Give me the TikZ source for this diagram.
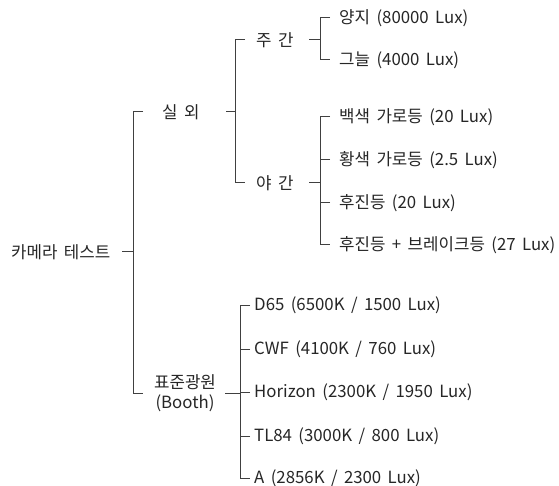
\documentclass[tikz,border=0pt]{standalone}
\usepackage{fontspec}
\setmainfont[WordSpace=1.7]{Noto Sans CJK KR}
\begin{document}
\begin{tikzpicture}[x=1pt,y=-1pt,
  txt/.style={inner sep=0pt, anchor=west, text=black!85, font=\fontsize{16.8}{19.5}\selectfont},
  ln/.style={draw=black!75, line width=1pt}]
\useasboundingbox (0,0) rectangle (559,486);
% texts
\node[txt] (root) at (11,252) {카메라 테스트};
\node[txt] (out) at (162,112) {실 외};
\node[txt] (day) at (256,40) {주 간};
\node[txt] (night) at (256,183) {야 간};
\node[txt, anchor=center, align=center] (booth) at (185,393) {표준광원\\(Booth)};
\node[txt] (d1) at (339,18) {양지 (80000 Lux)};
\node[txt] (d2) at (339,60) {그늘 (4000 Lux)};
\node[txt] (n1) at (339,117) {백색 가로등 (20 Lux)};
\node[txt] (n2) at (339,160) {황색 가로등 (2.5 Lux)};
\node[txt] (n3) at (339,203) {후진등 (20 Lux)};
\node[txt] (n4) at (339,245) {후진등 + 브레이크등 (27 Lux)};
\node[txt] (b1) at (254,305) {D65 (6500K / 1500 Lux)};
\node[txt] (b2) at (254,349) {CWF (4100K / 760 Lux)};
\node[txt] (b3) at (254,392) {Horizon (2300K / 1950 Lux)};
\node[txt] (b4) at (254,436) {TL84 (3000K / 800 Lux)};
\node[txt] (b5) at (254,478) {A (2856K / 2300 Lux)};
% x positions of the connector ends
\coordinate (x0a) at (122,0); \coordinate (x0) at (133,0); \coordinate (x0b) at (143,0);
\coordinate (x1a) at (226,0); \coordinate (x1) at (235,0); \coordinate (x1b) at (245,0);
\coordinate (x2a) at (309,0); \coordinate (x2) at (320,0); \coordinate (x2b) at (330,0);
\coordinate (x3a) at (225,0); \coordinate (x3) at (240,0); \coordinate (x3b) at (250,0);
% level 1
\draw[ln] (root.east -| x0a) -- (root.east -| x0);
\draw[ln] (out.west -| x0b) -- (out.west -| x0) -- (booth.center -| x0) -- (booth.center -| x0b);
% level 2
\draw[ln] (out.east -| x1a) -- (out.east -| x1);
\draw[ln] (day.west -| x1b) -- (day.west -| x1) -- (night.west -| x1) -- (night.west -| x1b);
% level 3
\draw[ln] (day.east -| x2a) -- (day.east -| x2);
\draw[ln] (night.east -| x2a) -- (night.east -| x2);
\draw[ln] (d1.west -| x2b) -- (d1.west -| x2) -- (d2.west -| x2) -- (d2.west -| x2b);
\draw[ln] (n1.west -| x2b) -- (n1.west -| x2) -- (n4.west -| x2) -- (n4.west -| x2b);
\draw[ln] (n2.west -| x2b) -- (n2.west -| x2);
\draw[ln] (n3.west -| x2b) -- (n3.west -| x2);
% booth
\draw[ln] (booth.center -| x3a) -- (booth.center -| x3);
\draw[ln] (b1.west -| x3b) -- (b1.west -| x3) -- (b5.west -| x3) -- (b5.west -| x3b);
\draw[ln] (b2.west -| x3b) -- (b2.west -| x3);
\draw[ln] (b3.west -| x3b) -- (b3.west -| x3);
\draw[ln] (b4.west -| x3b) -- (b4.west -| x3);
\end{tikzpicture}
\end{document}
